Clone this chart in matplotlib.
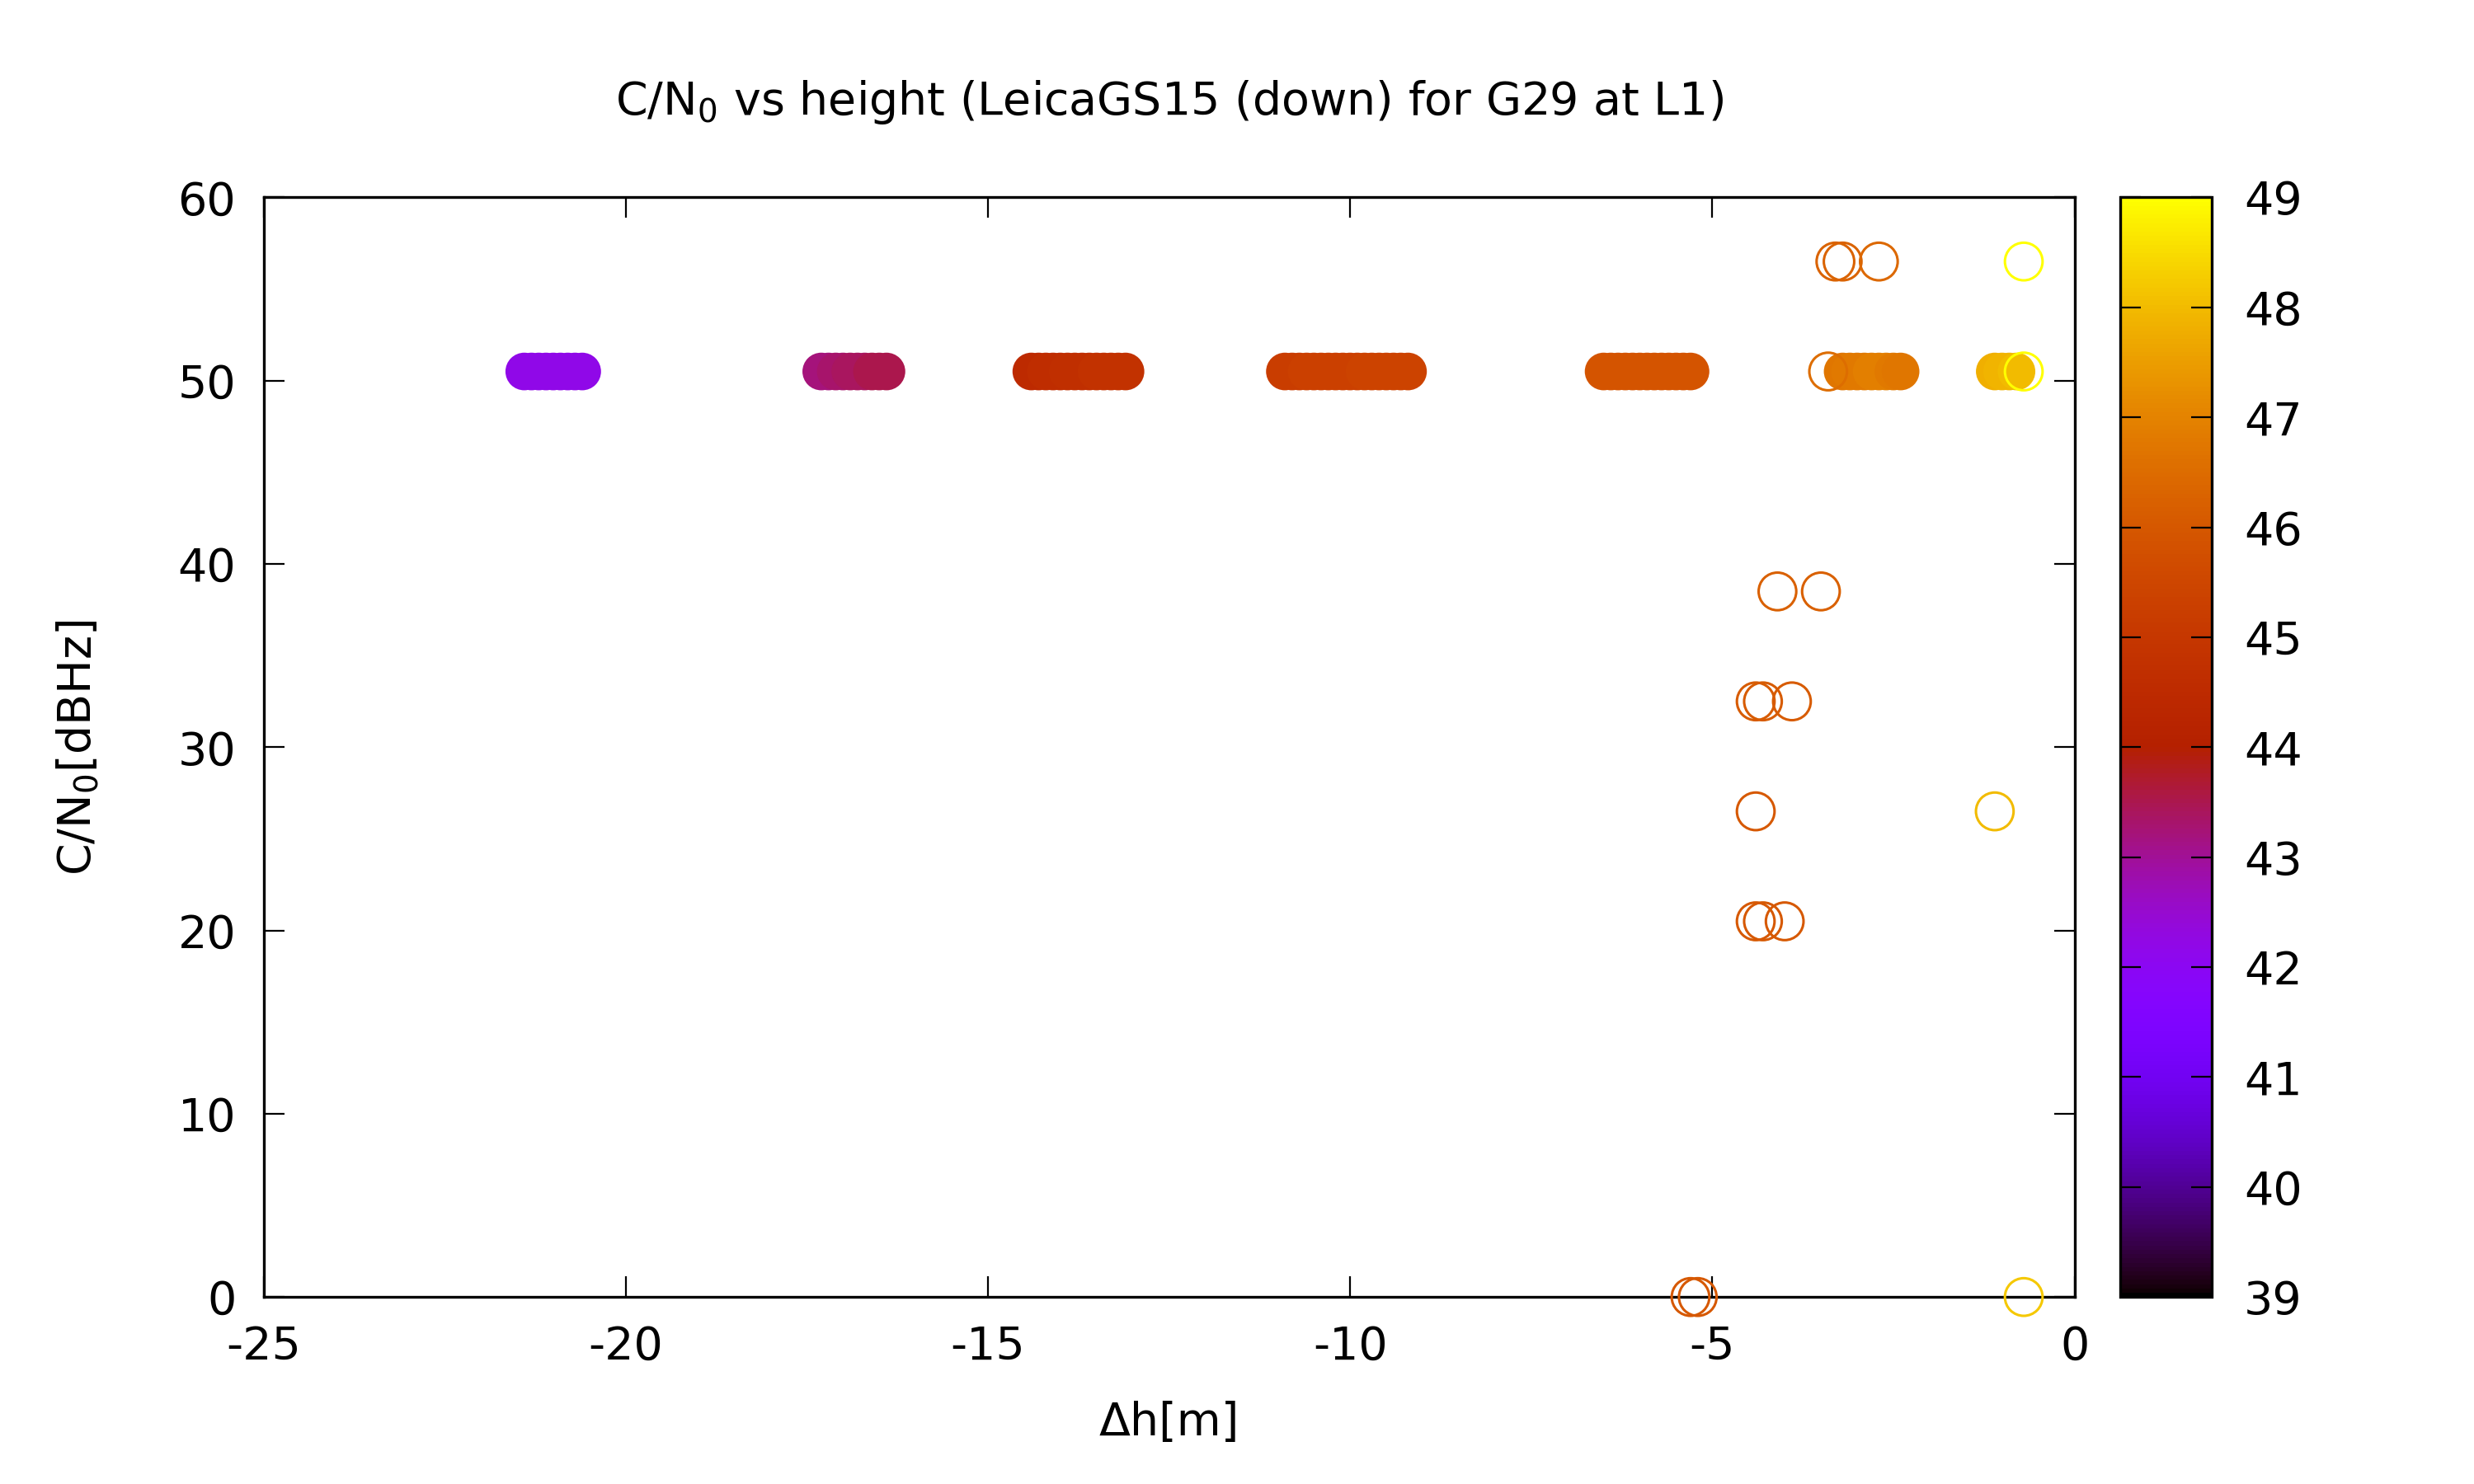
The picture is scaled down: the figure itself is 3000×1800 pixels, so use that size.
import matplotlib
matplotlib.use("Agg")
import matplotlib.pyplot as plt
import numpy as np

# filled points (height, C/N0, colour value)
fill_x = [-21.4,-21.3,-21.2,-21.1,-21.0,-20.9,-20.8,-20.7,-20.6,
          -17.3,-17.2,-17.1,-17.0,-16.9,-16.8,-16.7,-16.6,-16.5,-16.4,
          -14.4,-14.3,-14.2,-14.1,-14.0,-13.9,-13.8,-13.7,-13.6,-13.5,-13.4,-13.3,-13.2,-13.1,
          -10.9,-10.8,-10.7,-10.6,-10.5,-10.4,-10.3,-10.2,-10.1,-10.0,-9.9,-9.8,-9.7,-9.6,-9.5,-9.4,-9.3,-9.2,
          -6.5,-6.4,-6.3,-6.2,-6.1,-6.0,-5.9,-5.8,-5.7,-5.6,-5.5,-5.4,-5.3,
          -3.2,-3.1,-3.0,-2.9,-2.8,-2.7,-2.6,-2.5,-2.4,
          -1.1,-1.0,-0.9,-0.8]
fill_y = [50.5]*len(fill_x)
fill_c = [42.2]*9 + [43.2,43.2,43.3,43.3,43.4,43.4,43.4,43.5,43.5,43.5] \
       + [44.5,44.5,44.6,44.6,44.6,44.7,44.7,44.7,44.7,44.8,44.8,44.8,44.8,44.8] \
       + [45.2,45.2,45.2,45.3,45.3,45.3,45.3,45.3,45.3,45.3,45.3,45.4,45.4,45.4,45.4,45.4,45.4,45.4] \
       + [45.9]*13 + [46.7,46.8,46.8,46.8,46.9,46.9,46.9,46.8,46.7] + [47.8,47.9,47.9,48.0]

# open circles
open_x = [-3.3,-3.2,-2.7,-0.7,-3.4,-0.7,-4.1,-3.5,-4.4,-4.3,-3.9,-4.4,-1.1,-4.4,-4.3,-4.0,-5.3,-5.2,-0.7]
open_y = [56.5,56.5,56.5,56.5,50.5,50.5,38.5,38.5,32.5,32.5,32.5,26.5,26.5,20.5,20.5,20.5,0,0,0]
open_c = [46.3,46.3,46.4,49.0,46.5,49.0,46.2,46.2,46.1,46.1,46.1,46.0,48.0,46.0,46.0,46.0,46.0,46.0,48.2]

plt.rcParams['font.family'] = 'DejaVu Sans'
plt.rcParams['axes.unicode_minus'] = False
fig = plt.figure(figsize=(15, 9), dpi=200)
ax = fig.add_axes([0.1065, 0.126, 0.732, 0.741])
cax = fig.add_axes([0.857, 0.126, 0.037, 0.741])
cmap = plt.get_cmap('gnuplot')
norm = matplotlib.colors.Normalize(39, 49)

ax.scatter(fill_x, fill_y, c=fill_c, cmap=cmap, norm=norm, s=270, edgecolors='none', zorder=2, clip_on=False)
ax.scatter(open_x, open_y, facecolors='none', edgecolors=cmap(norm(np.array(open_c))), s=270, linewidths=1.1, zorder=3, clip_on=False)

ax.set_xlim(-25, 0)
ax.set_ylim(0, 60)
ax.set_xticks(np.arange(-25, 1, 5))
ax.set_yticks(np.arange(0, 61, 10))
ax.tick_params(direction='in', top=True, right=True, labelsize=20, length=9, pad=12)
for s in ax.spines.values():
    s.set_linewidth(1.2)
ax.set_xlabel('Δh[m]', fontsize=20, labelpad=14)
ax.set_ylabel('C/N$_0$[dBHz]', fontsize=20, labelpad=34)
ax.set_title('C/N$_0$ vs height (LeicaGS15 (down) for G29 at L1)', fontsize=20, pad=36)

sm = matplotlib.cm.ScalarMappable(norm=norm, cmap=cmap)
cb = fig.colorbar(sm, cax=cax)
cb.set_ticks(np.arange(39, 50, 1))
cax.tick_params(labelsize=20, direction='in', length=9, pad=14)
cax.minorticks_off()
cax.yaxis.set_ticks_position('both')
cax.tick_params(which='both', left=True, right=True)
cb.outline.set_linewidth(1.2)

fig.savefig('out.png', dpi=200)
